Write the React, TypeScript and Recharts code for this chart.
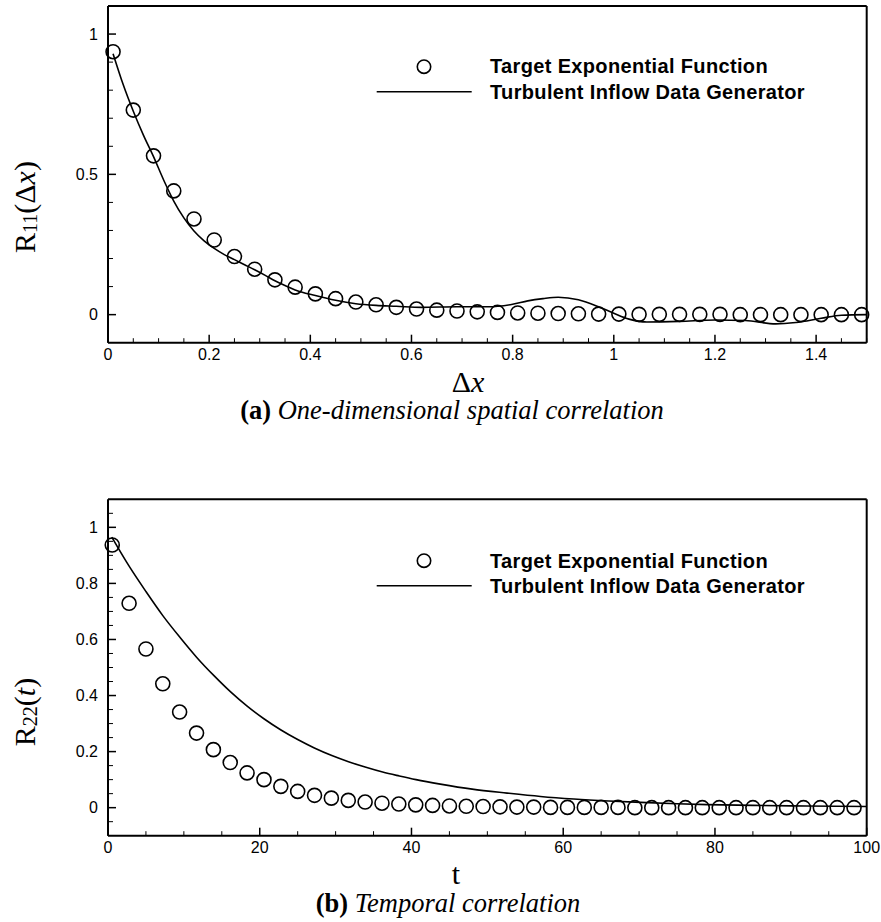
import React from 'react';
import { ComposedChart, Line, Scatter, XAxis, YAxis, Legend } from 'recharts';

// ---------- (a) spatial correlation ----------
const spatialTargetX = [0.01, 0.05, 0.09, 0.13, 0.17, 0.21, 0.25, 0.29, 0.33, 0.37, 0.41, 0.45, 0.49, 0.53, 0.57, 0.61, 0.65, 0.69, 0.73, 0.77, 0.81, 0.85, 0.89, 0.93, 0.97, 1.01, 1.05, 1.09, 1.13, 1.17, 1.21, 1.25, 1.29, 1.33, 1.37, 1.41, 1.45, 1.49];
const spatialTargetY = [0.937, 0.729, 0.566, 0.441, 0.341, 0.266, 0.207, 0.162, 0.124, 0.098, 0.074, 0.057, 0.045, 0.035, 0.026, 0.020, 0.016, 0.013, 0.010, 0.008, 0.006, 0.005, 0.004, 0.003, 0.002, 0.002, 0.001, 0.001, 0.001, 0.001, 0.001, 0, 0, 0, 0, 0, 0, 0];

const spatialLineX = [0.01, 0.03, 0.05, 0.07, 0.09, 0.11, 0.13, 0.15, 0.17, 0.19, 0.21, 0.23, 0.25, 0.27, 0.29, 0.31, 0.33, 0.35, 0.37, 0.41, 0.45, 0.49, 0.53, 0.57, 0.62, 0.69, 0.75, 0.8, 0.83, 0.86, 0.89, 0.93, 0.97, 1.0, 1.03, 1.065, 1.13, 1.2, 1.26, 1.32, 1.36, 1.41, 1.45, 1.5];
const spatialLineY = [0.93, 0.82, 0.725, 0.64, 0.563, 0.48, 0.405, 0.345, 0.298, 0.263, 0.236, 0.214, 0.196, 0.178, 0.16, 0.141, 0.121, 0.104, 0.088, 0.068, 0.051, 0.039, 0.033, 0.03, 0.026, 0.028, 0.028, 0.037, 0.049, 0.057, 0.062, 0.053, 0.028, 0.005, -0.016, -0.026, -0.024, -0.019, -0.021, -0.033, -0.028, -0.013, -0.002, 0.0];

const spatialXTicks = [0, 0.05, 0.1, 0.15, 0.2, 0.25, 0.3, 0.35, 0.4, 0.45, 0.5, 0.55, 0.6, 0.65, 0.7, 0.75, 0.8, 0.85, 0.9, 0.95, 1, 1.05, 1.1, 1.15, 1.2, 1.25, 1.3, 1.35, 1.4, 1.45, 1.5];
const spatialXMajor = [0, 0.2, 0.4, 0.6, 0.8, 1, 1.2, 1.4];
const spatialYTicks = [0, 0.1, 0.2, 0.3, 0.4, 0.5, 0.6, 0.7, 0.8, 0.9, 1];
const spatialYMajor = [0, 0.5, 1];

// ---------- (b) temporal correlation ----------
const temporalTargetX = [0.56, 2.78, 5.0, 7.22, 9.44, 11.67, 13.89, 16.11, 18.33, 20.56, 22.78, 25.0, 27.22, 29.44, 31.67, 33.89, 36.11, 38.33, 40.56, 42.78, 45.0, 47.22, 49.44, 51.67, 53.89, 56.11, 58.33, 60.56, 62.78, 65.0, 67.22, 69.44, 71.67, 73.89, 76.11, 78.33, 80.56, 82.78, 85.0, 87.22, 89.44, 91.67, 93.89, 96.11, 98.33];
const temporalTargetY = [0.937, 0.729, 0.566, 0.442, 0.341, 0.266, 0.207, 0.161, 0.124, 0.100, 0.076, 0.058, 0.044, 0.034, 0.026, 0.020, 0.016, 0.013, 0.010, 0.008, 0.006, 0.005, 0.004, 0.003, 0.002, 0.002, 0.001, 0.001, 0.001, 0.001, 0.001, 0, 0, 0, 0, 0, 0, 0, 0, 0, 0, 0, 0, 0, 0];

const temporalLineX = [0.5, 2.7, 5, 7.2, 9.5, 11.7, 14, 16.2, 18.3, 20.5, 22.8, 25, 27.2, 29.5, 31.7, 34, 36.2, 38.4, 40.6, 43.8, 48, 52.6, 57, 61.4, 66, 70.2, 75, 79, 85, 92, 100];
const temporalLineY = [0.965, 0.865, 0.771, 0.686, 0.607, 0.536, 0.47, 0.412, 0.363, 0.318, 0.277, 0.243, 0.213, 0.186, 0.164, 0.144, 0.127, 0.113, 0.1, 0.084, 0.066, 0.052, 0.04, 0.031, 0.024, 0.019, 0.014, 0.011, 0.008, 0.006, 0.004];

const temporalXTicks = [0, 5, 10, 15, 20, 25, 30, 35, 40, 45, 50, 55, 60, 65, 70, 75, 80, 85, 90, 95, 100];
const temporalXMajor = [0, 20, 40, 60, 80, 100];
const temporalYTicks = [-0.05, 0, 0.05, 0.1, 0.15, 0.2, 0.25, 0.3, 0.35, 0.4, 0.45, 0.5, 0.55, 0.6, 0.65, 0.7, 0.75, 0.8, 0.85, 0.9, 0.95, 1, 1.05];
const temporalYMajor = [0, 0.2, 0.4, 0.6, 0.8, 1];

const legendLabels = ['Target Exponential Function', 'Turbulent Inflow Data Generator'];

const zip = (xs: number[], ys: number[]) => xs.map((x, i) => ({ x, y: ys[i] }));

const SANS = '"Liberation Sans", Arial, sans-serif';
const SERIF = '"Liberation Serif", "Times New Roman", serif';

const isMajor = (majors: number[], v: number) => majors.some((m) => Math.abs(m - v) < 1e-9);

function makeYTick(majors: number[]) {
  return (props: any) => {
    const { x, y, payload } = props;
    const v = payload.value as number;
    const major = isMajor(majors, v);
    return (
      <g>
        <line x1={x} y1={y} x2={x + (major ? 8 : 5)} y2={y} stroke="#000" strokeWidth={major ? 1.5 : 1} />
        {major && (
          <text x={x - 10} y={y} dy="0.36em" textAnchor="end" fontFamily={SANS} fontSize={16} fill="#000">
            {String(v)}
          </text>
        )}
      </g>
    );
  };
}

function makeXTick(majors: number[]) {
  return (props: any) => {
    const { x, y, payload } = props;
    const v = payload.value as number;
    const major = isMajor(majors, v);
    return (
      <g>
        <line x1={x} y1={y} x2={x} y2={y - (major ? 8 : 4.5)} stroke="#000" strokeWidth={major ? 1.5 : 1} />
        {major && (
          <text x={x} y={y + 17.5} textAnchor="middle" fontFamily={SANS} fontSize={16} fill="#000">
            {String(v)}
          </text>
        )}
      </g>
    );
  };
}

const circleShape = (props: any) => (
  <circle cx={props.cx} cy={props.cy} r={7} fill="none" stroke="#000" strokeWidth={1.6} />
);

function makeLegend(circleY: number, lineY: number, text1Y: number, text2Y: number) {
  return () => (
    <svg width={881} height={120} style={{ display: 'block', overflow: 'visible' }}>
      <circle cx={424} cy={circleY} r={6.7} fill="none" stroke="#000" strokeWidth={1.6} />
      <line x1={376.7} y1={lineY} x2={471.7} y2={lineY} stroke="#000" strokeWidth={1.6} />
      <text x={490} y={text1Y} fontFamily={SANS} fontWeight="bold" fontSize={20} letterSpacing={0.35} fill="#000">
        {legendLabels[0]}
      </text>
      <text x={490} y={text2Y} fontFamily={SANS} fontWeight="bold" fontSize={20} letterSpacing={0.35} fill="#000">
        {legendLabels[1]}
      </text>
    </svg>
  );
}

interface PanelProps {
  height: number;
  margin: { top: number; right: number; bottom: number; left: number };
  xDomain: [number, number];
  xTicks: number[];
  xMajor: number[];
  yTicks: number[];
  yMajor: number[];
  target: { x: number; y: number }[];
  line: { x: number; y: number }[];
  legend: () => React.ReactElement;
}

function Panel(p: PanelProps) {
  return (
    <ComposedChart width={881} height={p.height} margin={p.margin}>
      <XAxis
        xAxisId="main"
        dataKey="x"
        type="number"
        domain={p.xDomain}
        ticks={p.xTicks}
        interval={0}
        height={1}
        tickSize={0}
        tickMargin={0}
        tickLine={false}
        tick={makeXTick(p.xMajor)}
        axisLine={{ stroke: '#000', strokeWidth: 2 }}
      />
      <XAxis
        xAxisId="top"
        orientation="top"
        type="number"
        domain={p.xDomain}
        height={1}
        tick={false}
        tickLine={false}
        axisLine={{ stroke: '#000', strokeWidth: 2 }}
      />
      <YAxis
        yAxisId="main"
        dataKey="y"
        type="number"
        domain={[-0.1, 1.1]}
        ticks={p.yTicks}
        interval={0}
        width={1}
        tickSize={0}
        tickMargin={0}
        tickLine={false}
        tick={makeYTick(p.yMajor)}
        axisLine={{ stroke: '#000', strokeWidth: 2 }}
      />
      <YAxis
        yAxisId="right"
        orientation="right"
        type="number"
        domain={[-0.1, 1.1]}
        width={1}
        tick={false}
        tickLine={false}
        axisLine={{ stroke: '#000', strokeWidth: 2 }}
      />
      <Line
        xAxisId="main"
        yAxisId="main"
        data={p.line}
        dataKey="y"
        type="monotone"
        stroke="#000"
        strokeWidth={1.6}
        dot={false}
        activeDot={false}
        isAnimationActive={false}
        legendType="line"
      />
      <Scatter
        xAxisId="main"
        yAxisId="main"
        data={p.target}
        dataKey="y"
        shape={circleShape}
        isAnimationActive={false}
      />
      <Legend
        layout="horizontal"
        verticalAlign="middle"
        align="center"
        content={p.legend}
        wrapperStyle={{ left: 0, top: 0, width: 881, height: 120, pointerEvents: 'none' }}
      />
    </ComposedChart>
  );
}

export default function App() {
  return (
    <div style={{ position: 'absolute', left: 0, top: 0, width: 881, height: 922, background: '#fff' }}>
      <div style={{ position: 'absolute', left: 0, top: 0 }}>
        <Panel
          height={440}
          margin={{ top: 5, right: 13.3, bottom: 96.3, left: 107 }}
          xDomain={[0, 1.5]}
          xTicks={spatialXTicks}
          xMajor={spatialXMajor}
          yTicks={spatialYTicks}
          yMajor={spatialYMajor}
          target={zip(spatialTargetX, spatialTargetY)}
          line={zip(spatialLineX, spatialLineY)}
          legend={makeLegend(66.7, 91.7, 72.7, 98.7)}
        />
      </div>
      <div style={{ position: 'absolute', left: 0, top: 440 }}>
        <Panel
          height={482}
          margin={{ top: 58.3, right: 13.3, bottom: 85.3, left: 107 }}
          xDomain={[0, 100]}
          xTicks={temporalXTicks}
          xMajor={temporalXMajor}
          yTicks={temporalYTicks}
          yMajor={temporalYMajor}
          target={zip(temporalTargetX, temporalTargetY)}
          line={zip(temporalLineX, temporalLineY)}
          legend={makeLegend(120.7, 145.7, 127.7, 153.3)}
        />
      </div>
      <svg
        width={881}
        height={922}
        style={{ position: 'absolute', left: 0, top: 0, pointerEvents: 'none' }}
      >
        <text transform="translate(35,207) rotate(-90)" textAnchor="middle" fontFamily={SERIF} fontSize={30} fill="#000">
          R<tspan fontSize={20} dy={2}>11</tspan>
          <tspan dy={-2}>(Δ</tspan>
          <tspan fontStyle="italic">x</tspan>)
        </text>
        <text x={468} y={392} textAnchor="middle" fontFamily={SERIF} fontSize={30} fill="#000">
          Δ<tspan fontStyle="italic">x</tspan>
        </text>
        <text x={452} y={419} textAnchor="middle" fontFamily={SERIF} fontSize={26.5} fill="#000">
          <tspan fontWeight="bold">(a)</tspan>
          <tspan fontStyle="italic"> One-dimensional spatial correlation</tspan>
        </text>
        <text transform="translate(35,712) rotate(-90)" textAnchor="middle" fontFamily={SERIF} fontSize={30} fill="#000">
          R<tspan fontSize={20} dy={2}>22</tspan>
          <tspan dy={-2}>(</tspan>
          <tspan fontStyle="italic">t</tspan>)
        </text>
        <text x={456} y={884} textAnchor="middle" fontFamily={SERIF} fontSize={30} fill="#000">
          t
        </text>
        <text x={448} y={912} textAnchor="middle" fontFamily={SERIF} fontSize={26.5} fill="#000">
          <tspan fontWeight="bold">(b)</tspan>
          <tspan fontStyle="italic"> Temporal correlation</tspan>
        </text>
      </svg>
    </div>
  );
}
